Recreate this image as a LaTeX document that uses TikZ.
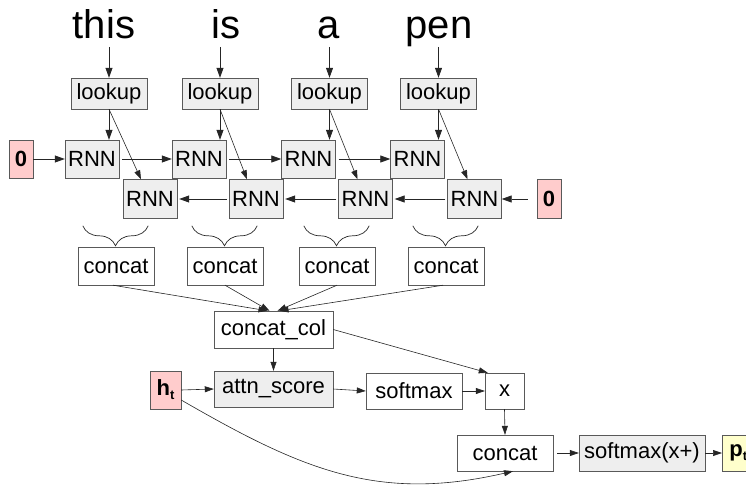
\documentclass[tikz,border=0pt]{standalone}
\usepackage{fontspec}
\setmainfont{Liberation Sans}
\usetikzlibrary{arrows.meta, decorations.pathreplacing}
\definecolor{opgray}{HTML}{EEEEEE}
\definecolor{zeropink}{HTML}{FFCCCC}
\definecolor{outyellow}{HTML}{FFFFCC}
\newcommand{\lowsub}[1]{\raisebox{-4pt}{\fontsize{13}{13}\selectfont #1}}
\tikzset{
    word/.style={anchor=base, inner sep=0pt, font=\fontsize{40}{40}\selectfont},
    op/.style={
        rectangle, draw=black!65, fill=opgray, inner sep=0pt,
        font=\fontsize{22}{22}\selectfont
    },
    plain/.style={op, fill=white},
    zero/.style={op, fill=zeropink, font=\fontsize{22}{22}\selectfont\bfseries},
    link/.style={draw=black!85, line width=0.8pt, -{Triangle[length=10pt,width=7pt]}},
    thinlink/.style={draw=black!85, line width=0.6pt, -{Triangle[length=9pt,width=6pt]}},
    group/.style={draw=black!85, line width=0.7pt, decorate,
        decoration={brace, amplitude=20pt, mirror}}
}

\begin{document}
\begin{tikzpicture}[x=1pt, y=-1pt]
\useasboundingbox (0,0) rectangle (746,487);

% input words
\node[word] (w1) at (104,38) {this};
\node[word] (w2) at (226,38) {is};
\node[word] (w3) at (329,38) {a};
\node[word] (w4) at (439,38) {pen};

% embedding lookup
\node[op, minimum width=76, minimum height=31] (lk1) at (109,93.5) {lookup};
\node[op, minimum width=76, minimum height=31] (lk2) at (220,93.5) {lookup};
\node[op, minimum width=76, minimum height=31] (lk3) at (329.5,93.5) {lookup};
\node[op, minimum width=76, minimum height=31] (lk4) at (438.5,93.5) {lookup};

% forward RNN
\node[zero, minimum width=24, minimum height=38] (z0) at (21,159) {0};
\node[op, minimum width=54, minimum height=38] (f1) at (92,159) {RNN};
\node[op, minimum width=54, minimum height=38] (f2) at (199,159) {RNN};
\node[op, minimum width=54, minimum height=38] (f3) at (308.5,159) {RNN};
\node[op, minimum width=54, minimum height=38] (f4) at (417.5,159) {RNN};

% backward RNN
\node[op, minimum width=54, minimum height=39] (b1) at (150,199) {RNN};
\node[op, minimum width=54, minimum height=39] (b2) at (256,199) {RNN};
\node[op, minimum width=54, minimum height=39] (b3) at (365.5,199) {RNN};
\node[op, minimum width=54, minimum height=39] (b4) at (474.5,199) {RNN};
\node[zero, minimum width=24, minimum height=39] (z1) at (549,199) {0};

% concat per word
\node[plain, minimum width=76, minimum height=38] (c1) at (116,266) {concat};
\node[plain, minimum width=76, minimum height=38] (c2) at (225,266) {concat};
\node[plain, minimum width=76, minimum height=38] (c3) at (337,266) {concat};
\node[plain, minimum width=76, minimum height=38] (c4) at (446,266) {concat};

% attention
\node[plain, minimum width=119, minimum height=37] (ccol) at (273.5,329.5) {concat\_col};
\node[zero, minimum width=31, minimum height=38] (ht) at (165.5,390) {h\lowsub{t}};
\node[op, minimum width=119, minimum height=36] (attn) at (273.5,389) {attn\_score};
\node[plain, minimum width=96, minimum height=36] (smax) at (414,391) {softmax};
\node[plain, minimum width=39, minimum height=36] (mul) at (504.5,391) {x};
\node[plain, minimum width=96, minimum height=36] (cfin) at (505,453) {concat};
\node[op, minimum width=126, minimum height=36] (sout) at (642,453) {softmax(x+)};
\node[zero, fill=outyellow, minimum width=32, minimum height=36, anchor=west] (pt) at (722,453) {p\lowsub{t}};

% words -> lookup
\draw[link] ([yshift=31pt]lk1.north) -- (lk1.north);
\draw[link] ([yshift=31pt]lk2.north) -- (lk2.north);
\draw[link] ([yshift=31pt]lk3.north) -- (lk3.north);
\draw[link] ([yshift=31pt]lk4.north) -- (lk4.north);

% lookup -> RNNs
\draw[link] (lk1.south) -- (lk1.south |- f1.north);
\draw[link] (lk2.south) -- (lk2.south |- f2.north);
\draw[link] (lk3.south) -- (lk3.south |- f3.north);
\draw[link] (lk4.south) -- (lk4.south |- f4.north);
\draw[thinlink] (lk1.south) -- ([xshift=-9pt]b1.north);
\draw[thinlink] (lk2.south) -- ([xshift=-9pt]b2.north);
\draw[thinlink] (lk3.south) -- ([xshift=-8pt]b3.north);
\draw[thinlink] (lk4.south) -- ([xshift=-7pt]b4.north);

% recurrences
\draw[link] (z0) -- (f1);
\draw[link, shorten <=3pt] (f1) -- (f2);
\draw[link, shorten <=3pt] (f2) -- (f3);
\draw[link, shorten <=3pt] (f3) -- (f4);
\draw[link, shorten <=9pt] (z1) -- (b4);
\draw[link, shorten <=2pt, shorten >=2pt] (b4) -- (b3);
\draw[link, shorten <=2pt, shorten >=2pt] (b3) -- (b2);
\draw[link, shorten <=2pt, shorten >=2pt] (b2) -- (b1);

% braces over concat
\draw[group] ([xshift=5pt, yshift=21pt]c1.north west) -- ([xshift=-6pt, yshift=21pt]c1.north east);
\draw[group] ([xshift=5pt, yshift=21pt]c2.north west) -- ([xshift=-6pt, yshift=21pt]c2.north east);
\draw[group] ([xshift=5pt, yshift=21pt]c3.north west) -- ([xshift=-6pt, yshift=21pt]c3.north east);
\draw[group] ([xshift=5pt, yshift=21pt]c4.north west) -- ([xshift=-6pt, yshift=21pt]c4.north east);

% concat -> concat_col
\draw[thinlink] ([xshift=-3pt]c1.south) -- ([xshift=-6pt]ccol.north);
\draw[thinlink] (c2.south) -- ([xshift=-4pt]ccol.north);
\draw[thinlink] (c3.south) -- ([xshift=4pt]ccol.north);
\draw[thinlink] ([xshift=-3pt]c4.south) -- ([xshift=6pt]ccol.north);

% attention flow
\draw[thinlink] (ccol.south) -- (attn.north);
\draw[thinlink] (ccol.east) -- ([xshift=3pt]mul.north west);
\draw[thinlink] (ht.east) -- (attn.west);
\draw[thinlink] (attn.east) -- (smax.west);
\draw[thinlink] (smax.east) -- (mul.west);
\draw[thinlink] (mul.south) -- (cfin.north);
\draw[thinlink] ([yshift=-10pt]ht.east) to[out=-30, in=193, looseness=1.05] ([xshift=8pt]cfin.south);
\draw[thinlink, shorten <=4pt] (cfin.east) -- (sout.west);
\draw[thinlink] (sout.east) -- (pt.west);

\end{tikzpicture}
\end{document}
